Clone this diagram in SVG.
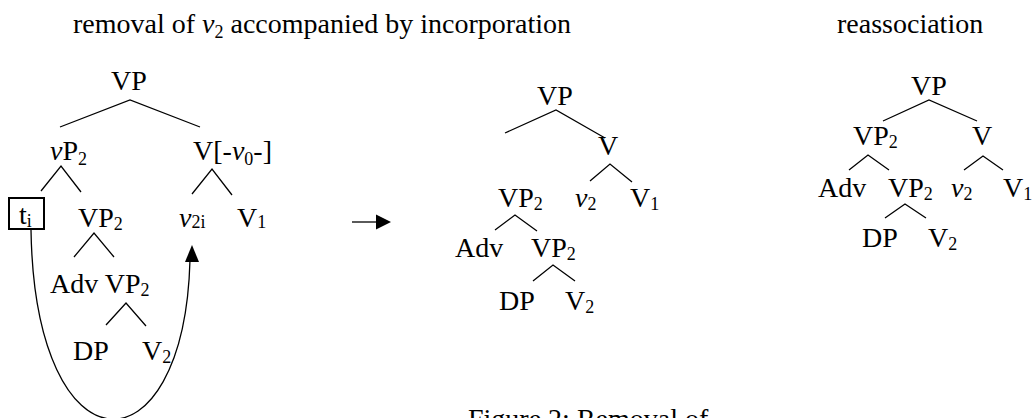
<svg xmlns="http://www.w3.org/2000/svg" width="1032" height="418" viewBox="0 0 1032 418">
<style>
.t{font-family:"Liberation Serif","Times New Roman",serif;font-size:28px;fill:#000}
.i{font-style:italic}
.s{font-size:18px}
.e{stroke:#000;stroke-width:1.3;fill:none}
</style>
<rect width="1032" height="418" fill="#fff"/>
<g id="titles">
<text class="t" x="73" y="33">removal of <tspan class="i">v</tspan><tspan class="s" dy="5">2</tspan><tspan dy="-5"> accompanied by incorporation</tspan></text>
<text class="t" x="837" y="33">reassociation</text>
<text class="t" x="468" y="428">Figure 2: Removal of</text>
</g>
<g id="tree-left">
<text class="t" x="111" y="90">VP</text>
<text class="t" x="50" y="160"><tspan class="i">v</tspan>P<tspan class="s" dy="5">2</tspan></text>
<text class="t" x="193" y="160">V[-<tspan class="i">v</tspan><tspan class="s" dy="5">0</tspan><tspan dy="-5">-]</tspan></text>
<rect x="9" y="198" width="35" height="31" fill="none" stroke="#000" stroke-width="2"/>
<text class="t" x="19" y="224">t<tspan class="s" dy="3">i</tspan></text>
<text class="t" x="78" y="227">VP<tspan class="s" dy="3">2</tspan></text>
<text class="t" x="179" y="227"><tspan class="i">v</tspan><tspan class="s" dy="1">2i</tspan></text>
<text class="t" x="237" y="227">V<tspan class="s" dy="1">1</tspan></text>
<text class="t" x="50" y="293">Adv VP<tspan class="s" dy="3">2</tspan></text>
<text class="t" x="73" y="360">DP</text>
<text class="t" x="142" y="360">V<tspan class="s" dy="3">2</tspan></text>
</g>
<g id="tree-middle">
<text class="t" x="537" y="105">VP</text>
<text class="t" x="598" y="155">V</text>
<text class="t" x="498" y="207">VP<tspan class="s" dy="3">2</tspan></text>
<text class="t" x="575" y="207"><tspan class="i">v</tspan><tspan class="s" dy="3">2</tspan></text>
<text class="t" x="630" y="207">V<tspan class="s" dy="3">1</tspan></text>
<text class="t" x="455" y="257">Adv</text>
<text class="t" x="531" y="257">VP<tspan class="s" dy="3">2</tspan></text>
<text class="t" x="499" y="310">DP</text>
<text class="t" x="565" y="310">V<tspan class="s" dy="3">2</tspan></text>
</g>
<g id="tree-right">
<text class="t" x="911" y="95">VP</text>
<text class="t" x="853" y="145">VP<tspan class="s" dy="3">2</tspan></text>
<text class="t" x="972" y="145">V</text>
<text class="t" x="818" y="197">Adv</text>
<text class="t" x="888" y="197">VP<tspan class="s" dy="3">2</tspan></text>
<text class="t" x="951" y="197"><tspan class="i">v</tspan><tspan class="s" dy="3">2</tspan></text>
<text class="t" x="1003" y="197">V<tspan class="s" dy="3">1</tspan></text>
<text class="t" x="862" y="247">DP</text>
<text class="t" x="928" y="247">V<tspan class="s" dy="3">2</tspan></text>
</g>
<g id="connectors">
<path class="e" d="M60 127L130 100L200 127M41 191L61 166L81 192M192 194L212 169L232 195M74 257L94 233L114 257M106 325L126 303L146 326"/>
<path class="e" d="M31 230C35 477 184 477 190 260"/>
<polygon points="192,245 185,262 199,262" fill="#000"/>
<path class="e" d="M352 222H377" stroke-width="1.6"/>
<polygon points="376,214.5 391,222 376,229.5" fill="#000"/>
<path class="e" d="M505 133L556 110L605 138M590 181L610 164L632 182M495 230L515 215L537 231M533 281L553 265L575 281"/>
<path class="e" d="M883 121L929 100L977 121M849 170L868 155L889 170M964 170L983 156L1003 170M885 218L905 204L926 218"/>
</g>
</svg>
